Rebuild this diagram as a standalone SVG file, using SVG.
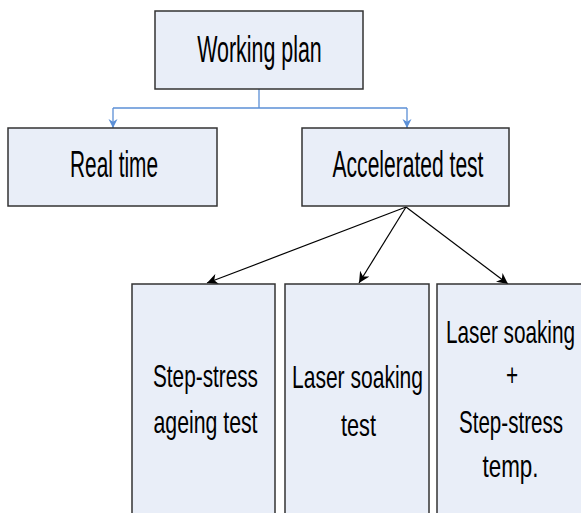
<svg xmlns="http://www.w3.org/2000/svg" width="581" height="513" viewBox="0 0 581 513">
<defs>
<style>
.box{fill:#e9eef8;stroke:#333;stroke-width:1.5}
.t{font-family:"Liberation Sans",Arial,sans-serif;fill:#000;text-anchor:middle}
.big{font-size:36.5px}
.sm{font-size:32px}
.blue{stroke:#5b8fd6;stroke-width:1.3;fill:none}
.blk{stroke:#000;stroke-width:1.2;fill:none}
</style>
<marker id="ab" viewBox="0 0 10 10" refX="10" refY="5" markerWidth="9" markerHeight="12" markerUnits="userSpaceOnUse" orient="auto">
<path d="M0,0 L10,5 L0,10 L3,5 z" fill="#5b8fd6"/>
</marker>
<marker id="ak" viewBox="0 0 10 10" refX="10" refY="5" markerWidth="13" markerHeight="11" markerUnits="userSpaceOnUse" orient="auto">
<path d="M0,0 L10,5 L0,10 L3,5 z" fill="#000"/>
</marker>
</defs>
<rect width="581" height="513" fill="#fff"/>
<g id="connectors">
<path class="blue" d="M259,89 V108"/>
<path class="blue" d="M113,108 H407"/>
<path class="blue" d="M113,108 V128" marker-end="url(#ab)"/>
<path class="blue" d="M407,108 V128" marker-end="url(#ab)"/>
<path class="blk" d="M406,207 L207,283" marker-end="url(#ak)"/>
<path class="blk" d="M406,207 L359,283" marker-end="url(#ak)"/>
<path class="blk" d="M406,207 L508,284" marker-end="url(#ak)"/>
</g>
<g id="working-plan">
<rect class="box" x="155" y="11" width="208" height="78"/>
<text class="t big" transform="translate(259.5,62) scale(0.587,1)">Working plan</text>
</g>
<g id="real-time">
<rect class="box" x="8" y="128" width="209" height="78"/>
<text class="t big" transform="translate(114,177) scale(0.571,1)">Real time</text>
</g>
<g id="accelerated-test">
<rect class="box" x="302" y="128" width="207" height="78"/>
<text class="t big" transform="translate(408,177) scale(0.577,1)">Accelerated test</text>
</g>
<g id="step-stress">
<rect class="box" x="132" y="284" width="143" height="240"/>
<text class="t sm" transform="translate(205.5,387) scale(0.649,1)">Step-stress</text>
<text class="t sm" transform="translate(205.5,433) scale(0.665,1)">ageing test</text>
</g>
<g id="laser-soaking">
<rect class="box" x="285" y="284" width="144" height="240"/>
<text class="t sm" transform="translate(357.5,388) scale(0.658,1)">Laser soaking</text>
<text class="t sm" transform="translate(358.5,436) scale(0.678,1)">test</text>
</g>
<g id="laser-step">
<rect class="box" x="437" y="284" width="146" height="240"/>
<text class="t sm" transform="translate(510.5,343) scale(0.648,1)">Laser soaking</text>
<text class="t sm" transform="translate(512,386) scale(0.65,1)">+</text>
<text class="t sm" transform="translate(511,433) scale(0.643,1)">Step-stress</text>
<text class="t sm" transform="translate(510.5,477) scale(0.7,1)">temp.</text>
</g>
</svg>
